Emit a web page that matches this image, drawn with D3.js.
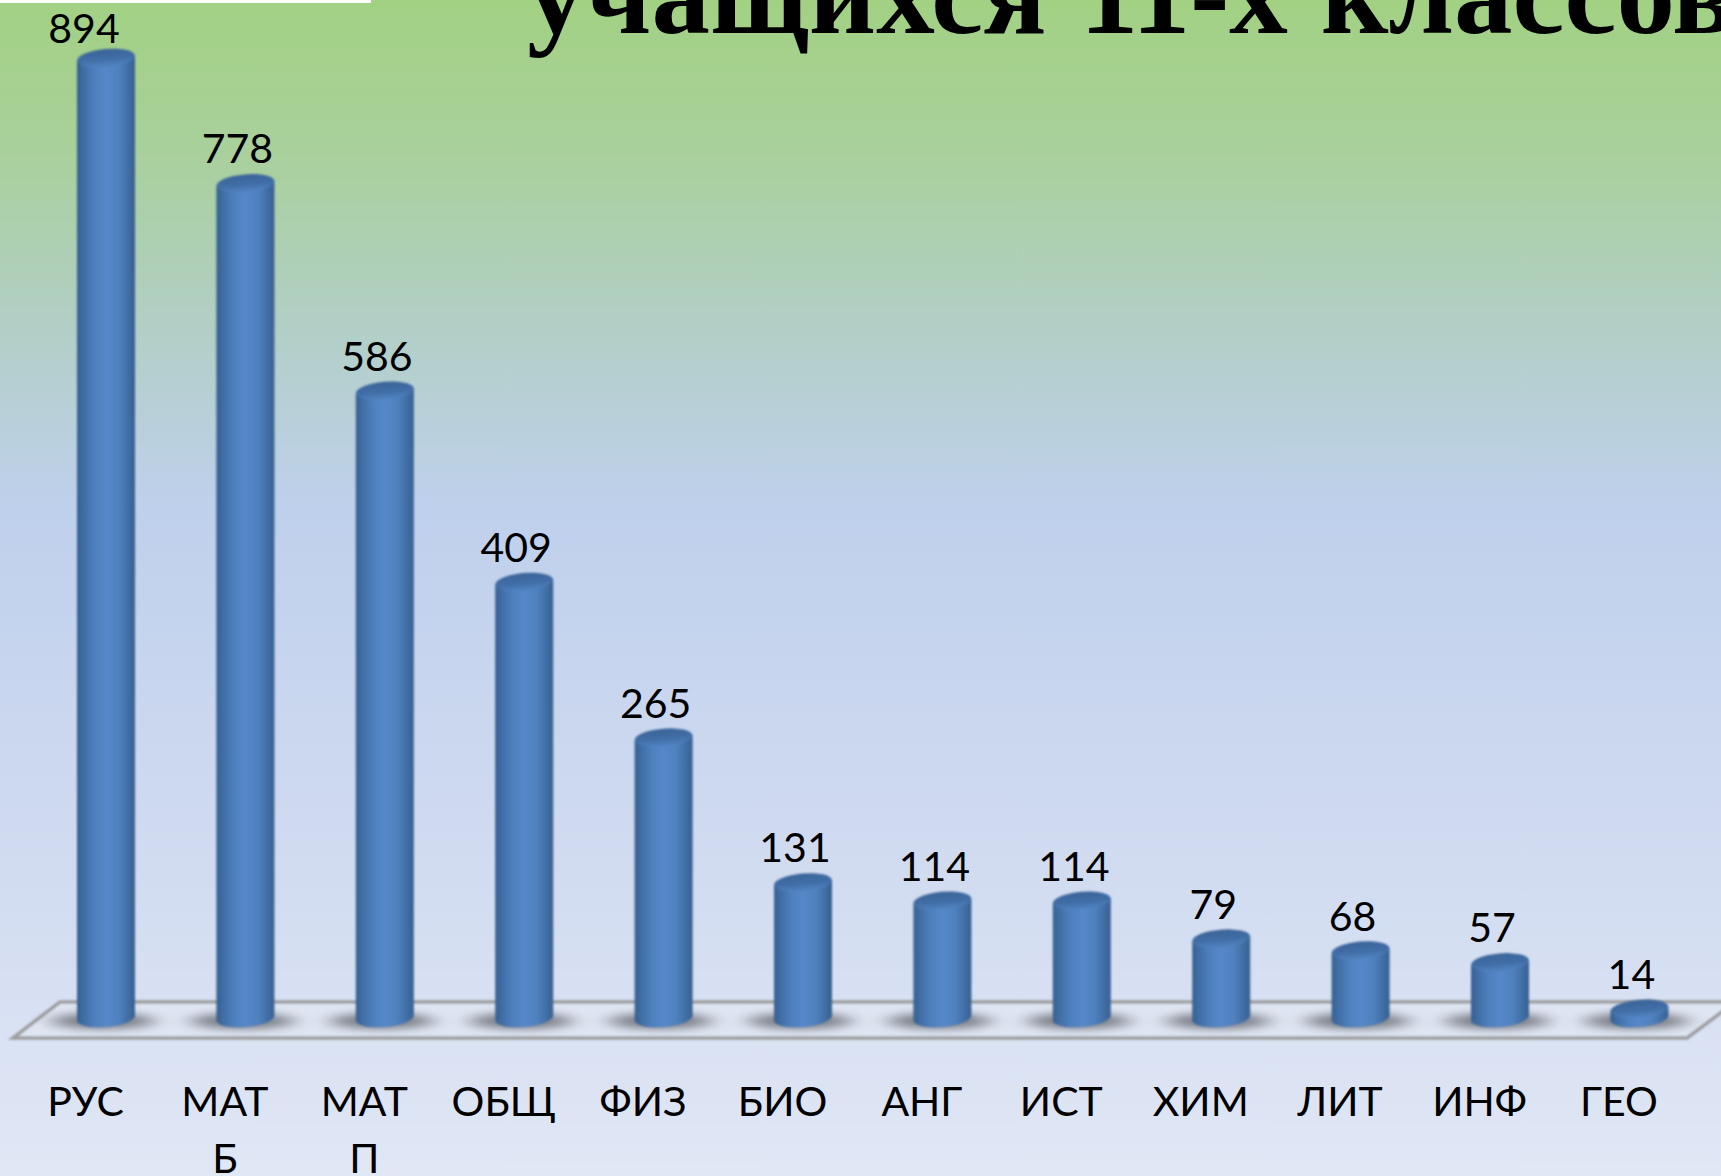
<!DOCTYPE html>
<html>
<head>
<meta charset="utf-8">
<script src="https://cdnjs.cloudflare.com/ajax/libs/d3/7.8.5/d3.min.js"></script>
<style>
  html, body { margin: 0; padding: 0; overflow: hidden; }
  text { font-family: Lato, "Noto Sans", "Open Sans", sans-serif; fill: #000; }
</style>
</head>
<body>
<script>
var categories = ['РУС', 'МАТ Б', 'МАТ П', 'ОБЩ', 'ФИЗ', 'БИО', 'АНГ', 'ИСТ', 'ХИМ', 'ЛИТ', 'ИНФ', 'ГЕО'];
var counts = [894, 778, 586, 409, 265, 131, 114, 114, 79, 68, 57, 14];
var titleText = 'учащихся 11-х классов';

var width = 1721;
var height = 1176;

var rx = 29;
var ry = 9;
var tilt = -5;
var baseY = 1018; // center of the bottom ellipse

var x = d3.scalePoint().domain(categories).range([106, 1639.4]);
var y = d3.scaleLinear().domain([0, 894]).range([1024, 58]);

var svg = d3.select('body').append('svg')
  .attr('width', width)
  .attr('height', height)
  .style('display', 'block');

var defs = svg.append('defs');

function addGradient(id, attrs, stops) {
  var g = defs.append('linearGradient').attr('id', id);
  Object.keys(attrs).forEach(function (k) { g.attr(k, attrs[k]); });
  stops.forEach(function (s) {
    g.append('stop').attr('offset', s[0]).attr('stop-color', s[1]);
  });
}

addGradient('bg', { x1: 0, y1: 0, x2: 0, y2: 1 }, [
  [0, '#a2d183'],
  [0.13, '#a9d09c'],
  [0.27, '#b1cfc4'],
  [0.43, '#bfd0ec'],
  [0.7, '#cfdaf0'],
  [1, '#e0e7f5']
]);
addGradient('body', { x1: 0, y1: 0, x2: 1, y2: 0 }, [
  [0, '#37608f'],
  [0.1, '#3f6ca3'],
  [0.3, '#4e80bd'],
  [0.5, '#5588ca'],
  [0.72, '#4f81be'],
  [0.9, '#3f6ca3'],
  [1, '#375f8e']
]);
addGradient('cap', { x1: 0, y1: 0, x2: 0, y2: 1 }, [
  [0, '#3a6398'],
  [0.6, '#426fa8'],
  [1, '#5385c4']
]);

defs.append('filter').attr('id', 'blur')
  .attr('x', '-40%').attr('y', '-200%').attr('width', '180%').attr('height', '500%')
  .append('feGaussianBlur').attr('stdDeviation', '11 4');
defs.append('filter').attr('id', 'soft')
  .append('feGaussianBlur').attr('stdDeviation', 0.8);

svg.append('rect').attr('width', width).attr('height', height).attr('fill', 'url(#bg)');
svg.append('rect').attr('width', 371).attr('height', 3).attr('fill', '#fff');

// title cut by the top and the right of the slide
svg.append('text')
  .attr('x', 527)
  .attr('y', 33)
  .style('font-family', '"Liberation Serif", serif')
  .style('font-weight', 700)
  .style('font-size', '117px')
  .style('word-spacing', '4px')
  .text(titleText);

// floor
var floorPath = d3.path();
floorPath.moveTo(60, 1002);
floorPath.lineTo(1735, 1002);
floorPath.lineTo(1687, 1038);
floorPath.lineTo(13, 1038);
floorPath.closePath();
svg.append('path')
  .attr('d', floorPath.toString())
  .attr('fill', '#dfe6f3')
  .attr('stroke', '#9d9e9f')
  .attr('stroke-width', 3.5)
  .attr('filter', 'url(#soft)');

// shadows under the cylinders
svg.append('g').selectAll('ellipse')
  .data(categories)
  .enter().append('ellipse')
  .attr('cx', function (d) { return x(d) - 3; })
  .attr('cy', 1021)
  .attr('rx', 52)
  .attr('ry', 8)
  .attr('fill', '#6a6d74')
  .attr('opacity', 0.85)
  .attr('filter', 'url(#blur)');

var bars = svg.append('g').selectAll('g')
  .data(counts)
  .enter().append('g')
  .attr('filter', 'url(#soft)');

// body + rounded bottom
bars.append('path')
  .attr('d', function (d, i) {
    var cx = x(categories[i]);
    var top = y(d);
    var p = d3.path();
    var dy = rx * Math.sin(-tilt * Math.PI / 180);
    p.moveTo(cx - rx, top + dy);
    p.lineTo(cx - rx, baseY + dy);
    return p.toString() +
      'A' + rx + ',' + ry + ' ' + tilt + ' 0 0 ' + (cx + rx) + ',' + (baseY - dy) +
      'L' + (cx + rx) + ',' + (top - dy) + 'Z';
  })
  .attr('fill', 'url(#body)');

bars.append('ellipse')
  .attr('cx', function (d, i) { return x(categories[i]); })
  .attr('cy', function (d) { return y(d); })
  .attr('rx', rx)
  .attr('ry', ry)
  .attr('transform', function (d, i) {
    return 'rotate(' + tilt + ' ' + x(categories[i]) + ' ' + y(d) + ')';
  })
  .attr('fill', 'url(#cap)');

// value labels, the first one is pushed aside and down by the top of the chart
svg.append('g').selectAll('text')
  .data(counts)
  .enter().append('text')
  .attr('x', function (d, i) { return x(categories[i]) - (i === 0 ? 22 : 8); })
  .attr('y', function (d) { return Math.max(y(d) - 20, 43); })
  .attr('text-anchor', 'middle')
  .style('font-size', '41px')
  .text(function (d) { return d; });

// category axis, labels wrap on the space
var axis = svg.append('g')
  .attr('transform', 'translate(-21,1076)')
  .call(d3.axisBottom(x).tickSize(0).tickFormat(''));
axis.select('.domain').remove();
axis.selectAll('.tick text').each(function (d) {
  var t = d3.select(this)
    .attr('y', 0).attr('dy', null)
    .attr('text-anchor', 'middle')
    .style('font-size', '41px')
    .style('font-family', null);
  d.split(' ').forEach(function (part, i) {
    t.append('tspan')
      .attr('x', 0)
      .attr('y', 40 + i * 57)
      .text(part);
  });
});
</script>
</body>
</html>
